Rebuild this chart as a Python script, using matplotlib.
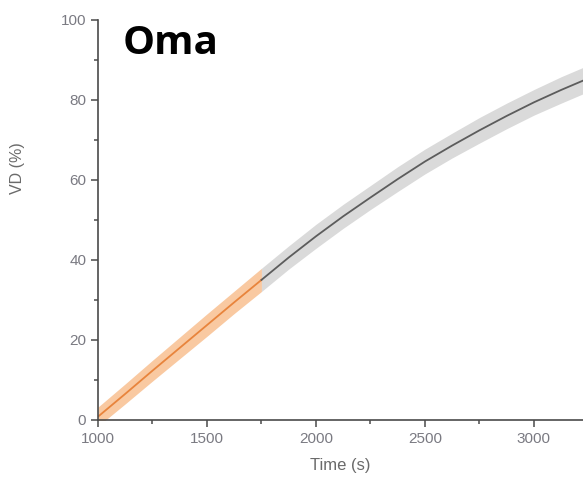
import numpy as np
import matplotlib
matplotlib.use("Agg")
import matplotlib.pyplot as plt
from matplotlib.ticker import MultipleLocator

# values
time = np.array([1000, 1125, 1250, 1375, 1500, 1625, 1750, 1875, 2000, 2125,
                 2250, 2375, 2500, 2625, 2750, 2875, 3000, 3125, 3250])
vd = np.array([0.8, 6.5, 12.3, 18.0, 23.7, 29.4, 35.0, 40.6, 45.9, 50.9,
               55.6, 60.2, 64.6, 68.6, 72.4, 76.0, 79.4, 82.5, 85.4])
vd_err = np.array([2.4, 2.5, 2.6, 2.7, 2.8, 2.8, 2.9, 2.9, 3.0, 3.0,
                   3.0, 3.1, 3.1, 3.1, 3.2, 3.2, 3.2, 3.3, 3.3])
split_time = 1750

plt.rcParams['font.family'] = ['Liberation Sans', 'DejaVu Sans']

fig = plt.figure(figsize=(5.83, 4.86), dpi=100)
ax = fig.add_axes([0.168, 0.136, 0.832, 0.823])

early = time <= split_time
late = time >= split_time

# early part (orange)
ax.fill_between(time[early], vd[early] - vd_err[early], vd[early] + vd_err[early],
                color='#F9C9A1', lw=0)
ax.plot(time[early], vd[early], color='#E8843C', lw=1.3)

# late part (grey)
ax.fill_between(time[late], vd[late] - vd_err[late], vd[late] + vd_err[late],
                color='#DADADA', lw=0)
ax.plot(time[late], vd[late], color='#5C5C5C', lw=1.3)

ax.set_xlim(1000, 3225)
ax.set_ylim(0, 100)

ax.xaxis.set_major_locator(MultipleLocator(500))
ax.xaxis.set_minor_locator(MultipleLocator(250))
ax.yaxis.set_major_locator(MultipleLocator(20))
ax.yaxis.set_minor_locator(MultipleLocator(10))

for side in ['top', 'right']:
    ax.spines[side].set_visible(False)
for side in ['left', 'bottom']:
    ax.spines[side].set_color('#4a4a4a')
    ax.spines[side].set_linewidth(1.2)

ax.tick_params(which='major', direction='out', length=5, width=1.1,
               color='#4a4a4a', labelcolor='#7a7a82', labelsize=11)
ax.tick_params(which='minor', direction='out', length=3, width=1.1, color='#4a4a4a')

ax.set_xlabel('Time (s)', fontsize=12, color='#6a6a6a', labelpad=9)
ax.set_ylabel('VD (%)', fontsize=11.5, color='#6a6a6a')
ax.yaxis.set_label_coords(-0.15, 0.63)

ax.text(0.05, 0.99, 'Oma', transform=ax.transAxes, ha='left', va='top',
        fontsize=29, fontweight='bold', family='Open Sans', color='black')

fig.savefig('out.png', dpi=100)
